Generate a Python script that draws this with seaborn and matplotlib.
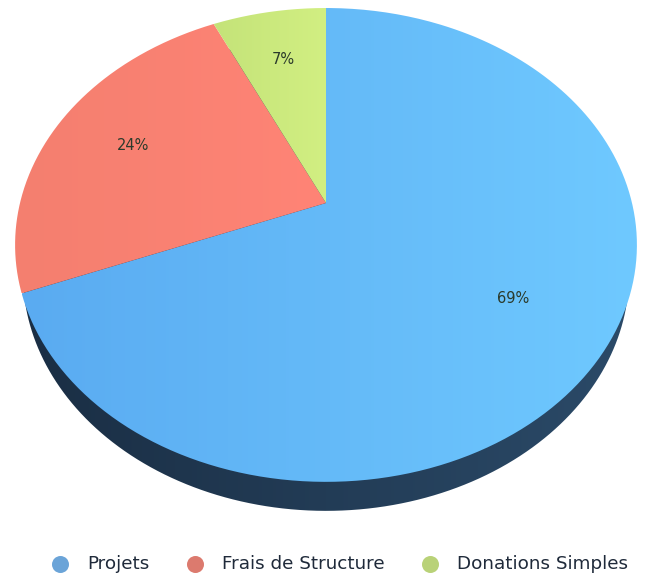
import numpy as np
import matplotlib
matplotlib.use("Agg")
import matplotlib.pyplot as plt
from matplotlib.patches import PathPatch
from matplotlib.path import Path
from matplotlib.colors import LinearSegmentedColormap
import seaborn as sns

categories = ["Projets", "Frais de Structure", "Donations Simples"]
shares = [69, 24, 7]
labels = ["69%", "24%", "7%"]
legend_colors = ["#6ba4d8", "#dc7a6e", "#b9d278"]
gradients = [("#5aabf1", "#6fc9ff"), ("#f47f6f", "#ff8476"), ("#c4e379", "#d2ef82")]
side_gradient = ("#1a2e44", "#2b4a68")

sns.set_theme(style="white")
plt.rcParams["font.family"] = ["DejaVu Sans"]

W, H = 646, 577
fig = plt.figure(figsize=(W / 100, H / 100), dpi=100)
ax = fig.add_axes([0, 0, 1, 1])

# Tilted-disc projection of the unit pie into pixel space
CX, CY, A, B, C = 326.0, 203.0, 306.0, 229.5, 0.177
DEPTH = 29
SIDE_NARROW = 0.975


def project(xy):
    xy = np.asarray(xy, dtype=float)
    d = 1 + C * xy[:, 1]
    return np.column_stack([CX + A * xy[:, 0] / d, CY - B * xy[:, 1] / d])


wedges, _ = ax.pie(shares, startangle=90, counterclock=False, radius=1)
polys = []
mids = []
for w in wedges:
    t = np.deg2rad(np.linspace(w.theta1, w.theta2, 300))
    arc = np.column_stack([np.cos(t), np.sin(t)])
    polys.append(project(np.vstack([[[0.0, 0.0]], arc, [[0.0, 0.0]]])))
    mids.append(np.deg2rad((w.theta1 + w.theta2) / 2))
    w.remove()

ax.set_aspect("auto")
ax.set_xlim(0, W)
ax.set_ylim(H, 0)
ax.axis("off")


def gradient_fill(poly, c0, c1, z):
    cmap = LinearSegmentedColormap.from_list("g", [c0, c1])
    x0, x1 = poly[:, 0].min(), poly[:, 0].max()
    y0, y1 = poly[:, 1].min(), poly[:, 1].max()
    g = np.linspace(0, 1, 256).reshape(1, -1)
    im = ax.imshow(g, cmap=cmap, extent=[x0, x1, y1, y0], aspect="auto",
                   zorder=z, interpolation="bilinear")
    patch = PathPatch(Path(poly), transform=ax.transData, fc="none", ec="none")
    ax.add_patch(patch)
    im.set_clip_path(patch)


# Side of the disc: the outline shifted down and slightly narrowed
t = np.linspace(0, 2 * np.pi, 800)
ring = np.column_stack([np.cos(t), np.sin(t)])
side = project(ring) + np.array([0, DEPTH])
side[:, 0] = CX + SIDE_NARROW * (side[:, 0] - CX)
gradient_fill(side, side_gradient[0], side_gradient[1], 1)

gradient_fill(polys[0], gradients[0][0], gradients[0][1], 2)
gradient_fill(polys[1], gradients[1][0], gradients[1][1], 3)
gradient_fill(polys[2], gradients[2][0], gradients[2][1], 4)
ax.set_xlim(0, W)
ax.set_ylim(H, 0)

# Value labels placed along each wedge's mid-angle
for mid, lab, r in zip(mids, labels, [0.69, 0.71, 0.72]):
    pos = project([[r * np.cos(mid), r * np.sin(mid)]])[0]
    ax.text(pos[0], pos[1], lab, ha="center", va="center", fontsize=10.5,
            color="#2b3a2b", zorder=6)

# Legend
handles = [ax.scatter([], [], s=150, color=c, label=n, linewidths=0)
           for c, n in zip(legend_colors, categories)]
leg = ax.legend(handles=handles, ncol=3, loc="center", frameon=False,
                bbox_to_anchor=(335 / W, 1 - 564 / H), bbox_transform=fig.transFigure,
                fontsize=13.2, handletextpad=0.5, columnspacing=1.45,
                labelcolor="#1f2a3a", borderaxespad=0, borderpad=0)

fig.savefig("out.png", dpi=100, facecolor="white")
